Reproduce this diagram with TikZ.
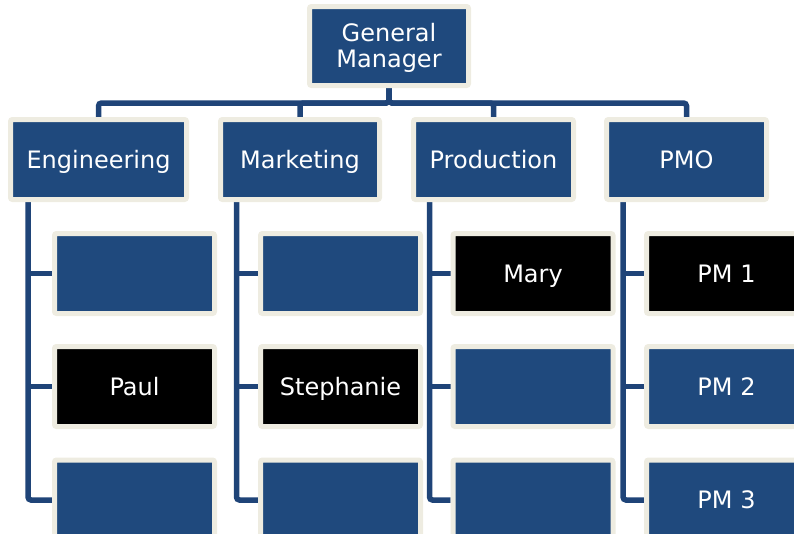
\documentclass[tikz,border=0pt]{standalone}
\usepackage{fontspec}
\setmainfont{DejaVu Sans}
\usetikzlibrary{backgrounds}
\definecolor{orgblue}{HTML}{1F497D}
\definecolor{linkblue}{HTML}{1F4478}
\definecolor{tanrim}{HTML}{EEECE1}
\tikzset{
  unit/.style={draw=tanrim,line width=5pt,rounded corners=2pt,fill=orgblue,text=white,font=\fontsize{24}{26}\selectfont,align=center,inner sep=0pt,minimum height=80pt,text height=22pt,text depth=5pt},
  headbox/.style={unit,minimum width=160pt},
  staffbox/.style={unit,minimum width=160pt},
  namedbox/.style={staffbox,fill=black},
  link/.style={draw=linkblue,line width=5.5pt,rounded corners=3pt}
}
\begin{document}
\begin{tikzpicture}[x=1pt,y=-1pt]
\useasboundingbox (0,0) rectangle (794,533);
\clip (0,0) rectangle (794,533);
% top levels
\node[unit,minimum width=159pt,minimum height=79pt,text height=,text depth=] (gm) at (389,46)
  {\raisebox{-9.5pt}[0pt][0pt]{\begin{tabular}{@{}c@{}}General\\Manager\end{tabular}}};
\node[headbox,minimum width=176pt] (eng) at (98.5,159.5) {Engineering};
\node[headbox,minimum width=159pt] (mkt) at (300,159.5) {Marketing};
\node[headbox] (prod) at (493.5,159.5) {Production};
\node[headbox] (pmo) at (686.5,159.5) {PMO};
% staff
\node[staffbox] (eng1) at (134.5,273.5) {};
\node[namedbox] (eng2) at (134.5,386.5) {Paul};
\node[staffbox] (eng3) at (134.5,500) {};
\node[staffbox] (mkt1) at (340.5,273.5) {};
\node[namedbox] (mkt2) at (340.5,386.5) {Stephanie};
\node[staffbox] (mkt3) at (340.5,500) {};
\node[namedbox] (prod1) at (533,273.5) {Mary};
\node[staffbox] (prod2) at (533,386.5) {};
\node[staffbox] (prod3) at (533,500) {};
\node[namedbox] (pmo1) at (726.5,273.5) {PM 1};
\node[staffbox] (pmo2) at (726.5,386.5) {PM 2};
\node[staffbox] (pmo3) at (726.5,500) {PM 3};
\begin{scope}[on background layer]
\foreach \d in {eng,mkt,prod,pmo}
  \draw[link] (gm.south) -- ++(0,15) -| (\d.north);
\foreach \c/\x in {eng/28,mkt/236.5,prod/429.5,pmo/623}{
  \coordinate (\c-top) at (\x,195);
  \draw[link] (\c-top) |- (\c3.west);
  \foreach \r in {1,2} \draw[link] (\c-top |- \c\r.west) -- (\c\r.west);
}
\end{scope}
\end{tikzpicture}
\end{document}
